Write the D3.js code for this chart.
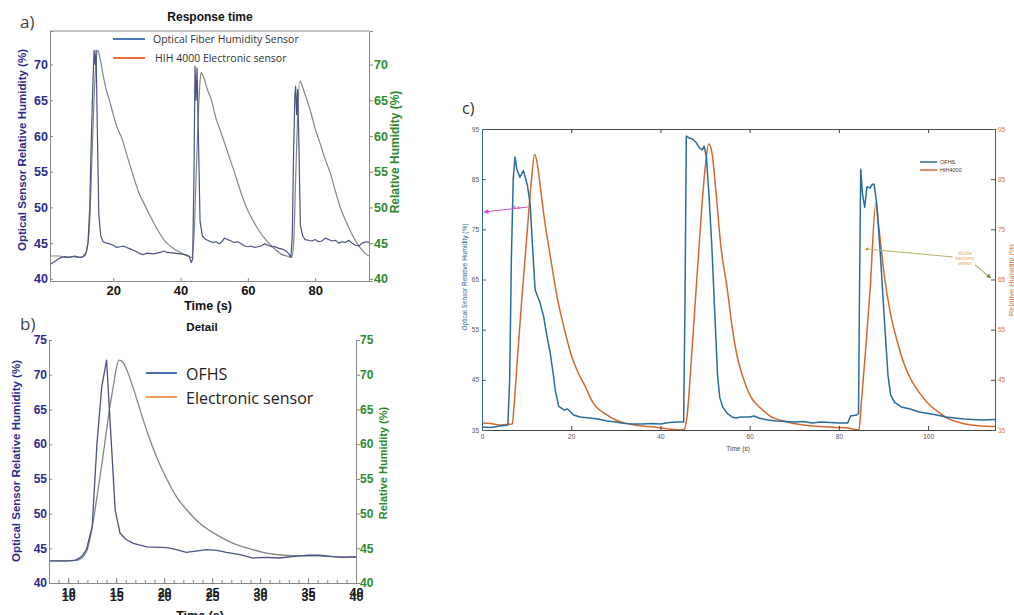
<!DOCTYPE html>
<html>
<head>
<meta charset="utf-8">
<script src="https://cdn.jsdelivr.net/npm/d3@7"></script>
<style>
  body { margin: 0; background: #fff; }
  svg { display: block; }
</style>
</head>
<body>
<div id="chart"></div>
<script>
// panel a) response time, [time s, RH %]
const aOptical = [[1.2,42.0],[2.5,42.4],[4,42.9],[5.5,43.1],[7,43.0],[8.5,43.2],[10,43.0],[11,43.1],[12,43.8],[12.5,45],[13,50],[13.5,60],[14,68],[14.3,72],[14.6,70],[14.9,72],[15.3,60],[15.7,49],[16.3,46],[17,45.2],[18,45],[19,44.9],[20,44.7],[21,44.4],[22,44.5],[23,44.6],[24,44.4],[25,44.2],[26,44],[27,43.8],[28,43.5],[29,43.4],[30,43.6],[32,43.5],[34,43.7],[35,43.9],[36,43.7],[38,43.6],[40,43.5],[41.5,43.4],[42.5,43.2],[43.2,42.3],[43.6,42.8],[44,55],[44.3,69.8],[44.6,65],[44.9,69.5],[45.3,60],[45.8,48],[46.5,46],[47.5,45.5],[48.5,45.3],[49.5,45.1],[50.5,45.2],[51.5,44.9],[52.5,45.3],[53,45.7],[54,45.5],[55,45.3],[56,45.1],[57,45.2],[58,44.9],[59,44.6],[60,44.5],[61,44.6],[62,44.4],[63,44.5],[64,44.6],[65,44.9],[66,44.7],[67,44.5],[68,44.5],[69,44.3],[70,44.2],[71,44.0],[72,43.6],[72.8,43.0],[73.2,46],[73.6,58],[74,66],[74.2,67],[74.5,63],[74.8,66.5],[75.2,58],[75.6,47.5],[76.3,46],[77,45.5],[78,45.4],[79,45.3],[80,45.5],[81,45.2],[82,45.3],[83,45.7],[84,45.5],[85,45.3],[86,45.4],[87,45.0],[88,45.2],[89,45.1],[90,45.4],[91,45.0],[92,44.7],[93,44.6],[94,45.0],[95,45.2],[96,45.1]];
const aElectronic = [[1.2,43.2],[4,43.2],[6,43.0],[8,43.1],[10,43.0],[11.5,43.2],[12.3,44.5],[13,48],[13.6,56],[14.2,64],[14.8,70],[15.4,72],[16,71],[17,68.5],[18,66.3],[18.8,65.1],[20,63],[21,61.4],[22.7,59.5],[24,57.4],[25.7,54.8],[27.5,52.2],[29.6,50.1],[31.5,48.3],[33.5,46.6],[35.5,45.2],[37.5,44.4],[39.5,43.8],[41.4,43.3],[42.5,43.1],[43.3,43.0],[44,46],[44.6,54],[45.2,62],[45.7,67],[46.1,68.9],[46.8,68.3],[48,66.5],[49.2,65],[50.5,62.5],[51.8,60.8],[53.1,59],[54.5,57],[56.1,54.8],[57.8,52.3],[59.5,50.1],[61.5,48.2],[63.5,46.6],[65.5,45.4],[67.5,44.4],[69.8,43.5],[71.5,43.2],[73,43.0],[73.6,45],[74.2,54],[74.8,63],[75.4,67.7],[76,67.2],[77,65.8],[77.6,65],[79,62.8],[80,61],[81.1,59.5],[82.8,57],[84.5,54.8],[86,52.3],[87.4,50.1],[89,48.2],[90.7,46.5],[92.4,45.0],[94,44.0],[95,43.5],[96,43.2]];
const aXTicks = [20, 40, 60, 80];
const aYTicks = [40, 45, 50, 55, 60, 65, 70];

// panel b) detail of the first peak
const bOptical = [[8,43.2],[9,43.2],[10,43.2],[10.8,43.3],[11.4,43.8],[11.9,44.8],[12.5,48.1],[13,60.1],[13.5,68.3],[14,72.1],[14.5,60.1],[14.9,50.5],[15.4,47.2],[16,46.3],[16.8,45.7],[18.2,45.2],[20.3,45.1],[21.3,44.8],[22.3,44.4],[23.3,44.6],[24.4,44.8],[25.5,44.7],[26.5,44.4],[27.9,44.1],[29.3,43.6],[30.7,43.7],[32,43.6],[34.1,43.9],[35,44.0],[36.2,44.0],[37.6,43.8],[38.5,43.7],[40,43.8]];
const bElectronic = [[8,43.2],[10,43.2],[11,43.3],[11.9,44.5],[12.5,48],[13,52.4],[13.5,57],[13.9,61],[14.3,65],[14.7,68.3],[15,70.8],[15.3,72.1],[15.7,71.8],[16.1,70.7],[16.8,68],[17.5,64.9],[18.3,61.5],[19.2,58.2],[20.2,55.2],[21.3,52.4],[22.5,50.3],[23.7,48.6],[25.4,47],[27.2,45.7],[29,44.9],[30.7,44.3],[32.5,44],[34.1,43.9],[36,43.9],[37.6,43.8],[40,43.7]];
const bXTicks = [10, 15, 20, 25, 30, 35, 40];
const bYTicks = [40, 45, 50, 55, 60, 65, 70, 75];

// panel c) OFHS vs HIH4000
const cOFHS = [[0,35.6],[2,35.5],[4,35.8],[5.8,36],[6.2,45],[6.6,70],[7.0,85],[7.4,89.4],[7.8,87],[8.5,85.4],[9.3,86.7],[10.2,83.7],[10.8,80],[11.3,72],[11.9,63],[12.5,61.5],[13,60.4],[13.8,57.7],[14.5,54],[15.3,50.3],[16,46],[16.4,43],[17.2,39.7],[18.4,39],[19.2,39.2],[20.5,38],[22,37.6],[24,37.4],[26,37.2],[28,36.8],[30,36.6],[32,36.3],[34,36.2],[36,36.2],[38,36.3],[40,36.2],[42,36.5],[44,36.6],[45.2,36.6],[45.5,60],[45.8,93.6],[46.5,93.2],[47.2,93.0],[48,92.3],[48.7,91.3],[49.3,90.8],[49.8,91.6],[50.3,89.5],[50.9,81.5],[51.5,72],[52.2,58],[52.8,46],[53.3,41.5],[54,39.5],[55,38.3],[56,37.6],[57,37.4],[58,37.6],[60,37.6],[61,37.8],[62,37.4],[64,37.0],[66,36.8],[68,36.7],[70,36.6],[72,36.7],[74,36.4],[76,36.6],[78,36.5],[80,36.4],[82,36.4],[82.6,37.8],[84,38.0],[84.4,38.2],[84.6,60],[84.9,87],[85.3,82],[85.8,79.4],[86.3,83.5],[87,83.2],[87.5,84],[87.9,84],[88.5,80],[89.3,70],[90.2,57],[91,46],[91.6,42],[92.5,40.5],[94,39.6],[96,39.2],[98,38.6],[100,38.3],[102,38],[104,37.6],[106,37.4],[108,37.2],[110,37.1],[112,37.0],[115,37.1]];
const cHIH4000 = [[0,36.4],[2,36.3],[4,36],[5.5,36.1],[6.8,36.2],[7.2,40],[8,50],[9,62],[10,73],[11,84],[11.8,89.9],[12.5,87.5],[13,84],[14,77],[15.3,69.7],[16.8,61.7],[18.5,55],[20.1,49.7],[21.5,46.5],[22.8,44.3],[25,40.3],[28,38],[30,37],[32.5,36.3],[36,35.8],[39.3,35.5],[42,35.2],[44.5,35.0],[45.4,35.2],[46,38],[47,50],[48,63],[49,76],[50,87],[50.8,92],[51.5,90.5],[52.5,82],[53.5,72],[55,63],[56,56],[57.2,49.7],[58.5,45.5],[60.2,41.7],[62.5,39.3],[64.7,37.7],[68,36.7],[72,36],[76,35.7],[80,35.5],[82,35.4],[84.5,35.0],[85,40],[86,51],[87,63],[88.3,80.3],[89,75],[90.2,65.7],[91.5,58.5],[93.2,52.3],[94.7,48],[96.2,45],[98,42.5],[100,40.3],[102,38.8],[104.4,37.3],[107,36.5],[109.7,36],[112,35.8],[115,35.7]];
const cXTicks = [0, 20, 40, 60, 80, 100];
const cYTicks = [35, 45, 55, 65, 75, 85, 95];

const width = 1014
const height = 615
const svg = d3.select("#chart")
    .append("svg")
    .attr("width", width)
    .attr("height", height);

const boldFont = "'Liberation Sans', Arial, sans-serif";
const lightFont = "'Open Sans', sans-serif";

function drawLine(g, data, x, y, color, w, smooth) {
    g.append("path")
        .datum(data)
        .attr("fill", "none")
        .attr("stroke", color)
        .attr("stroke-width", w)
        .attr("stroke-linejoin", "round")
        .attr("d", d3.line()
            .curve(smooth ? d3.curveMonotoneX : d3.curveLinear)
            .x(d => x(d[0])).y(d => y(d[1])));
}

function styleAxis(g, color, textColor, size, weight) {
    g.select(".domain").attr("stroke", color);
    g.selectAll(".tick line").attr("stroke", color);
    g.selectAll(".tick text")
        .attr("fill", textColor)
        .style("font-family", boldFont)
        .style("font-size", size + "px")
        .style("font-weight", weight);
}

function vLabel(x, y, text, color, size, weight, family) {
    svg.append("text")
        .attr("transform", `translate(${x},${y}) rotate(-90)`)
        .attr("text-anchor", "middle")
        .attr("fill", color)
        .style("font-family", family || boldFont)
        .style("font-size", size + "px")
        .style("font-weight", weight)
        .text(text);
}

function label(x, y, text, opts) {
    return svg.append("text")
        .attr("x", x).attr("y", y)
        .attr("text-anchor", opts.anchor || "start")
        .attr("fill", opts.color || "#000")
        .style("font-family", opts.family || boldFont)
        .style("font-size", opts.size + "px")
        .style("font-weight", opts.weight || "normal")
        .text(text);
}

// ---------- panel a ----------
const ax = d3.scaleLinear().domain([1.2, 96]).range([50, 369]);
const ay = d3.scaleLinear().domain([39.7, 74.7]).range([281, 31]);
const ga = svg.append("g");

drawLine(ga, aElectronic, ax, ay, "#7d8888", 1.2, true);
drawLine(ga, aOptical, ax, ay, "#4a5384", 1.2, false);

ga.append("line").attr("x1", 50).attr("x2", 369).attr("y1", 31).attr("y2", 31).attr("stroke", "#888");
ga.append("g").attr("transform", "translate(0,281)")
    .call(d3.axisBottom(ax).tickValues(aXTicks).tickSize(-3).tickPadding(5))
    .call(g => styleAxis(g, "#888", "#111", 13, "bold"));
ga.append("g").attr("transform", "translate(50,0)")
    .call(d3.axisLeft(ay).tickValues(aYTicks).tickSize(-3).tickPadding(2))
    .call(g => styleAxis(g, "#888", "#2b2b8f", 12.5, "bold"));
ga.append("g").attr("transform", "translate(369,0)")
    .call(d3.axisRight(ay).tickValues(aYTicks).tickSize(4).tickPadding(1))
    .call(g => styleAxis(g, "#888", "#2e8a2e", 12.5, "bold"));

label(20, 28, "a)", {size: 17, color: "#444", family: lightFont});
label(210, 21, "Response time", {size: 12, weight: "bold", anchor: "middle", color: "#111"});
label(208, 310, "Time (s)", {size: 12.5, weight: "bold", anchor: "middle", color: "#111"});
vLabel(26, 150, "Optical Sensor Relative Humidity (%)", "#2b2b8f", 11.5, "bold");
vLabel(399, 152, "Relative Humidity (%)", "#2e8a2e", 12, "bold");

ga.append("line").attr("x1", 113).attr("x2", 145).attr("y1", 39).attr("y2", 39).attr("stroke", "#4a78b8").attr("stroke-width", 2);
ga.append("line").attr("x1", 113).attr("x2", 145).attr("y1", 58).attr("y2", 58).attr("stroke", "#e8703a").attr("stroke-width", 2);
label(153, 43, "Optical Fiber Humidity Sensor", {size: 10.5, color: "#333", family: lightFont});
label(155, 62, "HIH 4000 Electronic sensor", {size: 10.5, color: "#333", family: lightFont});

// ---------- panel b ----------
const bx = d3.scaleLinear().domain([8, 40]).range([49, 356]);
const by = d3.scaleLinear().domain([40, 75]).range([583, 340]);
const gb = svg.append("g");

drawLine(gb, bElectronic, bx, by, "#7d8888", 1.3, true);
drawLine(gb, bOptical, bx, by, "#4a5384", 1.3, false);

gb.append("g").attr("transform", "translate(0,583)")
    .call(d3.axisBottom(bx).tickValues(d3.range(8, 41, 1)).tickSize(-3).tickFormat(""))
    .call(g => styleAxis(g, "#888", "#111", 12, "bold"));
gb.append("g").attr("transform", "translate(0,583)")
    .call(d3.axisBottom(bx).tickValues(bXTicks).tickSize(-5).tickPadding(5))
    .call(g => styleAxis(g, "#888", "#111", 12.5, "bold"));
// the scanned labels appear doubled, second copy a few pixels lower
gb.append("g").attr("transform", "translate(0,587)")
    .call(d3.axisBottom(bx).tickValues(bXTicks).tickSize(0).tickPadding(5))
    .call(g => styleAxis(g, "none", "#222", 12.5, "bold"));
gb.append("g").attr("transform", "translate(49,0)")
    .call(d3.axisLeft(by).tickValues(bYTicks).tickSize(-3).tickPadding(2))
    .call(g => styleAxis(g, "#888", "#2b2b8f", 12, "bold"));
gb.append("g").attr("transform", "translate(356,0)")
    .call(d3.axisRight(by).tickValues(bYTicks).tickSize(4).tickPadding(0))
    .call(g => styleAxis(g, "#888", "#2e8a2e", 12, "bold"));

label(20, 330, "b)", {size: 17, color: "#444", family: lightFont});
label(202, 331, "Detail", {size: 11.5, weight: "bold", anchor: "middle", color: "#111"});
label(200, 620, "Time (s)", {size: 12.5, weight: "bold", anchor: "middle", color: "#111"});
vLabel(20, 461, "Optical Sensor Relative Humidity (%)", "#2b2b8f", 11.5, "bold");
vLabel(387, 463, "Relative Humidity (%)", "#2e8a2e", 11, "bold");

gb.append("line").attr("x1", 146).attr("x2", 177).attr("y1", 373).attr("y2", 373).attr("stroke", "#4a70b0").attr("stroke-width", 2);
gb.append("line").attr("x1", 146).attr("x2", 177).attr("y1", 397).attr("y2", 397).attr("stroke", "#eb9a62").attr("stroke-width", 2);
label(186, 380, "OFHS", {size: 16, color: "#222", family: lightFont});
label(186, 404, "Electronic sensor", {size: 16, color: "#222", family: lightFont});

// ---------- panel c ----------
const cx = d3.scaleLinear().domain([0, 115]).range([482, 995]);
const cy = d3.scaleLinear().domain([35, 95]).range([430, 129]);
const gc = svg.append("g");

drawLine(gc, cHIH4000, cx, cy, "#d2692e", 1.5, true);
drawLine(gc, cOFHS, cx, cy, "#2a6c9a", 1.5, false);

gc.append("g").attr("transform", "translate(0,129)")
    .call(d3.axisTop(cx).tickValues(cXTicks).tickSize(-4).tickFormat(""))
    .call(g => styleAxis(g, "#444", "#555", 6, "normal"));
gc.append("g").attr("transform", "translate(0,430)")
    .call(d3.axisBottom(cx).tickValues(cXTicks).tickSize(-4).tickPadding(4))
    .call(g => styleAxis(g, "#444", "#555", 6.5, "normal"));
gc.append("g").attr("transform", "translate(482,0)")
    .call(d3.axisLeft(cy).tickValues(cYTicks).tickSize(-4).tickPadding(3))
    .call(g => styleAxis(g, "#2a6c9a", "#555", 6.5, "normal"));
gc.append("g").attr("transform", "translate(995,0)")
    .call(d3.axisRight(cy).tickValues(cYTicks).tickSize(-4).tickPadding(3))
    .call(g => styleAxis(g, "#555", "#c87a3e", 6.5, "normal"));

label(462, 114, "c)", {size: 16, color: "#333", family: lightFont});
label(738, 451, "Time (s)", {size: 6.5, anchor: "middle", color: "#444"});
vLabel(467, 277, "Optical Sensor Relative Humidity (%)", "#2a6c9a", 6.5, "normal");
vLabel(1014, 280, "Relative Humidity (%)", "#c87a3e", 7.5, "normal");

gc.append("line").attr("x1", 920).attr("x2", 937).attr("y1", 162).attr("y2", 162).attr("stroke", "#2a6c9a").attr("stroke-width", 1.5);
gc.append("line").attr("x1", 920).attr("x2", 937).attr("y1", 170).attr("y2", 170).attr("stroke", "#d2692e").attr("stroke-width", 1.5);
label(940, 164, "OFHS", {size: 5.5, color: "#333"});
label(940, 172, "HIH4000", {size: 5.5, color: "#333"});

// annotations
const defs = svg.append("defs");
[["arrMag", "#d050c8"], ["arrOl", "#8a8a40"]].forEach(([id, c]) => {
    defs.append("marker").attr("id", id)
        .attr("viewBox", "0 0 10 10").attr("refX", 9).attr("refY", 5)
        .attr("markerWidth", 5).attr("markerHeight", 5).attr("orient", "auto")
        .append("path").attr("d", "M0,0L10,5L0,10z").attr("fill", c);
});
gc.append("line").attr("x1", 528).attr("y1", 207).attr("x2", 484).attr("y2", 212)
    .attr("stroke", "#d050c8").attr("stroke-width", 1).attr("marker-end", "url(#arrMag)");
label(513, 209, "4 s", {size: 5, color: "#c040c0"});

gc.append("circle").attr("cx", cx(86.3)).attr("cy", 249).attr("r", 1.5).attr("fill", "#c89a40");
gc.append("line").attr("x1", cx(86.3)).attr("y1", 249).attr("x2", 953).attr("y2", 257)
    .attr("stroke", "#b8b070").attr("stroke-width", 1);
gc.append("line").attr("x1", 975).attr("y1", 265).attr("x2", 991).attr("y2", 278)
    .attr("stroke", "#8a8a40").attr("stroke-width", 1).attr("marker-end", "url(#arrOl)");
label(965, 255, "double", {size: 4.5, anchor: "middle", color: "#e0a860"});
label(965, 260, "electronic", {size: 4.5, anchor: "middle", color: "#e0a860"});
label(965, 265, "sensor", {size: 4.5, anchor: "middle", color: "#e0a860"});
</script>
</body>
</html>
